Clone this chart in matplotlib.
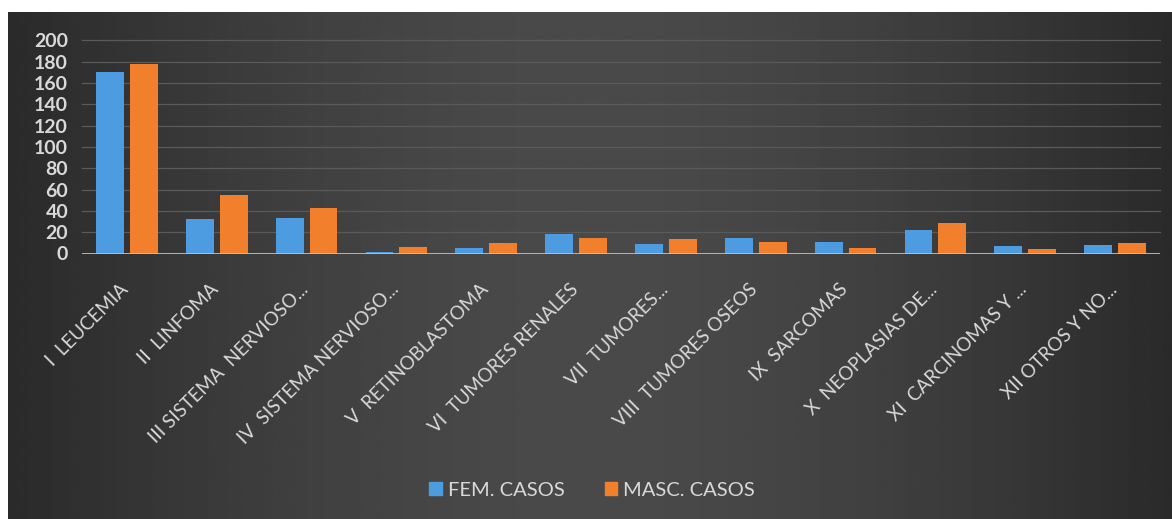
import numpy as np
import matplotlib
matplotlib.use("Agg")
import matplotlib.pyplot as plt
import matplotlib.transforms as mtransforms
from matplotlib.patches import Patch

categories = [
    "I  LEUCEMIA", "II  LINFOMA", "III SISTEMA  NERVIOSO...",
    "IV  SISTEMA NERVIOSO...", "V  RETINOBLASTOMA", "VI  TUMORES RENALES",
    "VII  TUMORES...", "VIII  TUMORES OSEOS", "IX  SARCOMAS",
    "X  NEOPLASIAS DE...", "XI  CARCINOMAS Y ...", "XII OTROS Y NO...",
]
fem_casos = [170, 32, 33, 1, 5, 18, 9, 15, 11, 22, 7, 8]
masc_casos = [178, 55, 43, 6, 10, 15, 14, 11, 5, 29, 4, 10]
yticks = list(range(0, 201, 20))

BLUE = "#4d9be0"
ORANGE = "#f27f2c"
TEXT = "#d9d9d9"
FONT = ["Lato", "DejaVu Sans"]

W, H = 1172, 519
fig = plt.figure(figsize=(W / 100, H / 100), dpi=100, facecolor="white")

# dark background with a soft horizontal gradient, white strip top/left
bg = fig.add_axes([8 / W, 0, 1 - 8 / W, (H - 12) / H])
xs = np.linspace(-1, 1, 400)
shade = 0.165 + 0.125 * (1 - np.abs(xs) ** 1.6)
grad = np.tile(shade, (50, 1))
bg.imshow(grad, cmap="gray", vmin=0, vmax=1, aspect="auto",
          extent=[0, 1, 0, 1])
bg.set_axis_off()

ax = fig.add_axes([82 / W, (H - 253.5) / H, (1160 - 82) / W, (253.5 - 40.5) / H])
ax.patch.set_alpha(0)

x = np.arange(len(categories))
bw = 0.31
gap = 0.065
ax.bar(x - (bw + gap) / 2, fem_casos, bw, color=BLUE, zorder=3)
ax.bar(x + (bw + gap) / 2, masc_casos, bw, color=ORANGE, zorder=3)

ax.set_xlim(-0.5, len(categories) - 0.5)
ax.set_ylim(0, 200)
ax.set_yticks(yticks)
ax.set_yticklabels([str(v) for v in yticks], fontsize=14, fontweight="bold",
                   color=TEXT, family=FONT)
for v in yticks[1:]:
    ax.axhline(v, color="#5a5a5a", lw=0.9, zorder=1, clip_on=False)
ax.axhline(0, color="#bfbfbf", lw=2, zorder=4)

# category labels drawn by hand so they can be nudged to end under the tick
ax.set_xticks([])
label_tf = ax.get_xaxis_transform() + mtransforms.ScaledTranslation(
    -7 / 100, -27 / 100, fig.dpi_scale_trans)
for xi, name in zip(x, categories):
    ax.text(xi, 0, name, transform=label_tf, rotation=45, ha="right",
            va="top", rotation_mode="anchor", fontsize=13.5, color=TEXT,
            family=FONT)
ax.tick_params(axis="both", length=0)
ax.tick_params(axis="y", pad=10)
for s in ax.spines.values():
    s.set_visible(False)

handles = [Patch(color=BLUE, label="FEM. CASOS"),
           Patch(color=ORANGE, label="MASC. CASOS")]
fig.legend(handles=handles, loc="center", bbox_to_anchor=(592 / W, 1 - 490 / H),
           ncol=2, frameon=False, labelcolor=TEXT,
           prop={"family": FONT, "size": 14.5}, handlelength=0.6,
           handleheight=0.6, handletextpad=0.3, columnspacing=2.0)

fig.savefig("out.png", dpi=100, facecolor="white")
